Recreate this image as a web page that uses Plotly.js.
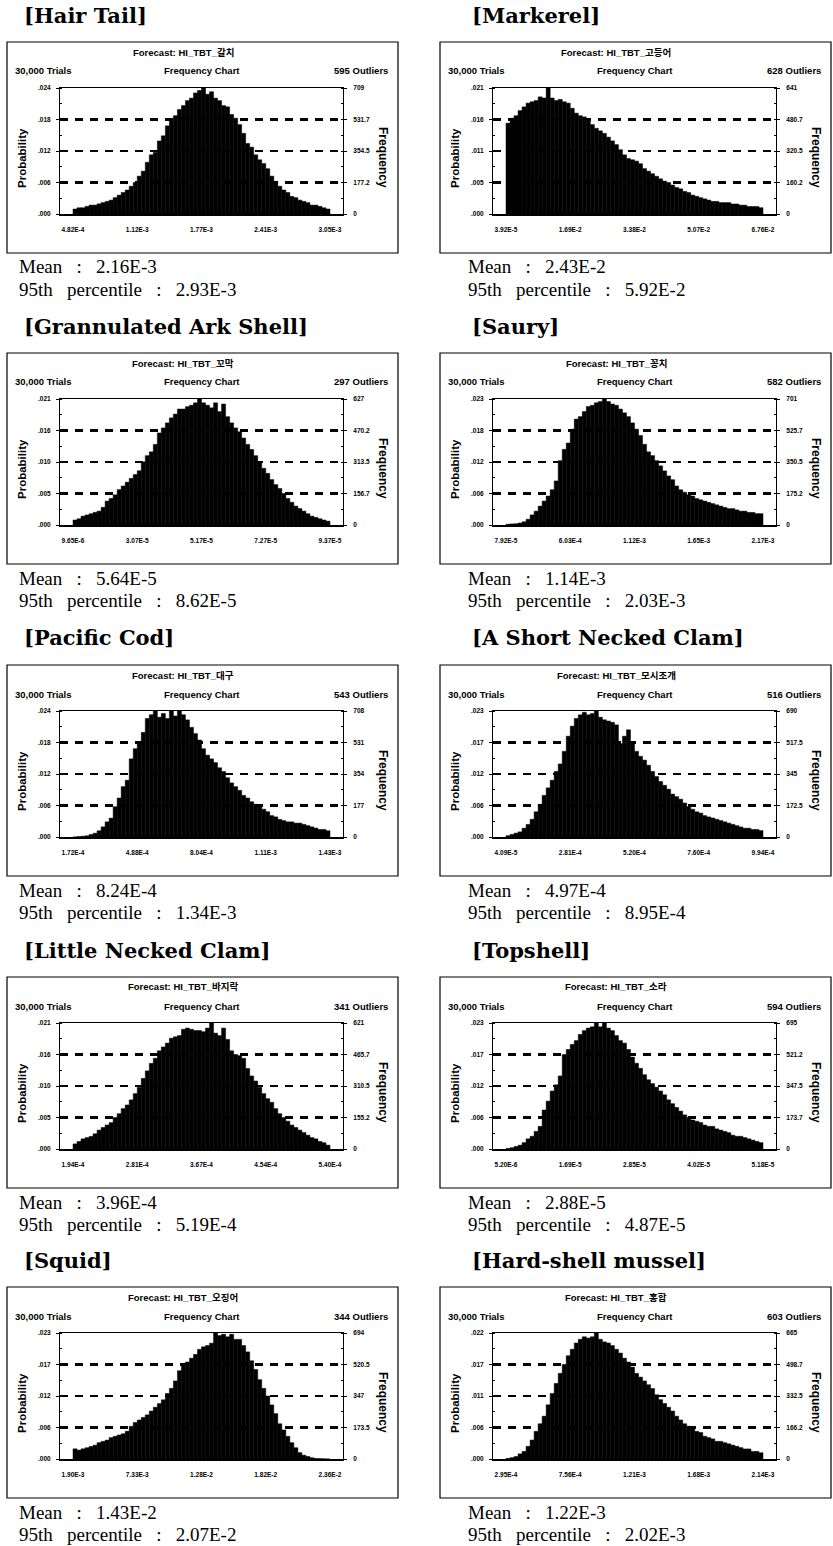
<!DOCTYPE html>
<html>
<head>
<meta charset="utf-8">
<script src="https://cdn.plot.ly/plotly-3.0.1.min.js"></script>
<style>
html,body{margin:0;padding:0;background:#fff;}
#chart{width:833px;height:1546px;}
</style>
</head>
<body>
<div id="chart"></div>
<script>
// ---------------- DATA ----------------
const speciesNames = ["[Hair Tail]", "[Markerel]", "[Grannulated Ark Shell]", "[Saury]", "[Pacific Cod]",
  "[A Short Necked Clam]", "[Little Necked Clam]", "[Topshell]", "[Squid]", "[Hard-shell mussel]"];
const forecastNames = ["HI_TBT_갈치", "HI_TBT_고등어", "HI_TBT_꼬막", "HI_TBT_꽁치", "HI_TBT_대구",
  "HI_TBT_모시조개", "HI_TBT_바지락", "HI_TBT_소라", "HI_TBT_오징어", "HI_TBT_홍합"];
const trials = ["30,000", "30,000", "30,000", "30,000", "30,000", "30,000", "30,000", "30,000", "30,000", "30,000"];
const outliers = [595, 628, 297, 582, 543, 516, 341, 594, 344, 603];
const meanLabels = ["2.16E-3", "2.43E-2", "5.64E-5", "1.14E-3", "8.24E-4", "4.97E-4", "3.96E-4", "2.88E-5", "1.43E-2", "1.22E-3"];
const p95Labels = ["2.93E-3", "5.92E-2", "8.62E-5", "2.03E-3", "1.34E-3", "8.95E-4", "5.19E-4", "4.87E-5", "2.07E-2", "2.02E-3"];
const freqMax = [709, 641, 627, 701, 708, 690, 621, 695, 694, 665];

const xTickLabels = [
  ["4.82E-4", "1.12E-3", "1.77E-3", "2.41E-3", "3.05E-3"],
  ["3.92E-5", "1.69E-2", "3.38E-2", "5.07E-2", "6.76E-2"],
  ["9.65E-6", "3.07E-5", "5.17E-5", "7.27E-5", "9.37E-5"],
  ["7.92E-5", "6.03E-4", "1.12E-3", "1.65E-3", "2.17E-3"],
  ["1.72E-4", "4.88E-4", "8.04E-4", "1.11E-3", "1.43E-3"],
  ["4.09E-5", "2.81E-4", "5.20E-4", "7.60E-4", "9.94E-4"],
  ["1.94E-4", "2.81E-4", "3.67E-4", "4.54E-4", "5.40E-4"],
  ["5.20E-6", "1.69E-5", "2.85E-5", "4.02E-5", "5.18E-5"],
  ["1.90E-3", "7.33E-3", "1.28E-2", "1.82E-2", "2.36E-2"],
  ["2.95E-4", "7.56E-4", "1.21E-3", "1.68E-3", "2.14E-3"]
];
const probTickLabels = [
  [".000", ".006", ".012", ".018", ".024"],
  [".000", ".005", ".011", ".016", ".021"],
  [".000", ".005", ".010", ".016", ".021"],
  [".000", ".006", ".012", ".018", ".023"],
  [".000", ".006", ".012", ".018", ".024"],
  [".000", ".006", ".012", ".017", ".023"],
  [".000", ".005", ".010", ".016", ".021"],
  [".000", ".006", ".012", ".017", ".023"],
  [".000", ".006", ".012", ".017", ".023"],
  [".000", ".006", ".011", ".017", ".022"]
];
const freqTickLabels = [
  ["0", "177.2", "354.5", "531.7", "709"],
  ["0", "160.2", "320.5", "480.7", "641"],
  ["0", "156.7", "313.5", "470.2", "627"],
  ["0", "175.2", "350.5", "525.7", "701"],
  ["0", "177", "354", "531", "708"],
  ["0", "172.5", "345", "517.5", "690"],
  ["0", "155.2", "310.5", "465.7", "621"],
  ["0", "173.7", "347.5", "521.2", "695"],
  ["0", "173.5", "347", "520.5", "694"],
  ["0", "166.2", "332.5", "498.7", "665"]
];

const hairTailCounts = [28, 35, 35, 43, 50, 50, 57, 64, 71, 78, 92, 106, 121, 135, 156, 177, 213, 241, 291, 333, 347, 411, 440, 496, 532, 553, 588, 610, 638, 652, 681, 695, 709, 674, 688, 652, 638, 610, 603, 560, 539, 503, 454, 397, 376, 333, 305, 284, 255, 213, 184, 156, 135, 121, 99, 92, 78, 71, 64, 50, 50, 43, 35, 28];
const markerelCounts = [462, 487, 500, 526, 545, 564, 571, 577, 596, 590, 641, 590, 577, 583, 571, 564, 538, 513, 500, 494, 474, 455, 436, 423, 410, 391, 372, 353, 327, 301, 282, 276, 269, 256, 231, 218, 205, 192, 179, 167, 160, 147, 135, 128, 115, 109, 96, 90, 83, 77, 71, 64, 64, 58, 58, 58, 51, 51, 45, 45, 38, 38, 38, 32];
const arkShellCounts = [25, 31, 44, 50, 56, 63, 69, 88, 119, 132, 150, 176, 194, 213, 232, 251, 270, 314, 345, 364, 401, 458, 483, 508, 533, 552, 577, 577, 589, 596, 608, 627, 608, 596, 583, 608, 564, 602, 539, 508, 483, 464, 433, 401, 376, 345, 314, 282, 257, 226, 201, 182, 157, 132, 113, 94, 82, 69, 56, 44, 38, 31, 25, 19];
const sauryCounts = [4, 6, 7, 11, 18, 32, 56, 77, 105, 133, 161, 196, 245, 358, 421, 456, 533, 589, 603, 631, 659, 666, 680, 687, 701, 687, 673, 666, 645, 624, 603, 568, 533, 498, 449, 407, 386, 358, 329, 301, 273, 252, 217, 196, 182, 168, 161, 147, 140, 133, 126, 119, 112, 105, 98, 91, 91, 84, 77, 77, 70, 70, 63, 63];
const pacificCodCounts = [0, 2, 4, 7, 14, 21, 35, 57, 85, 106, 170, 219, 283, 319, 439, 496, 524, 588, 666, 687, 708, 673, 694, 666, 708, 680, 708, 687, 658, 616, 581, 545, 496, 460, 439, 418, 389, 368, 333, 304, 283, 262, 234, 219, 198, 184, 170, 156, 142, 120, 113, 99, 92, 85, 85, 78, 78, 71, 64, 57, 50, 42, 42, 35];
const shortNeckedClamCounts = [7, 14, 21, 28, 48, 69, 97, 138, 179, 228, 269, 311, 359, 400, 469, 552, 607, 649, 669, 683, 669, 676, 690, 656, 642, 635, 628, 614, 511, 552, 587, 518, 469, 442, 421, 393, 359, 331, 304, 283, 262, 235, 221, 207, 186, 166, 152, 138, 131, 117, 110, 104, 97, 90, 83, 76, 69, 62, 55, 48, 48, 41, 41, 35];
const littleNeckedClamCounts = [25, 37, 50, 56, 62, 75, 93, 106, 118, 130, 155, 174, 199, 217, 242, 273, 304, 348, 385, 422, 447, 484, 503, 522, 546, 553, 559, 590, 596, 590, 584, 584, 578, 596, 621, 571, 559, 596, 540, 484, 466, 460, 447, 397, 360, 335, 304, 273, 248, 230, 199, 174, 155, 137, 118, 106, 93, 81, 68, 56, 50, 37, 31, 19];
const topshellCounts = [3, 7, 14, 21, 35, 56, 70, 97, 125, 215, 264, 320, 354, 403, 521, 549, 577, 598, 632, 653, 667, 674, 695, 674, 695, 667, 653, 626, 598, 584, 549, 507, 473, 445, 410, 382, 361, 341, 320, 299, 271, 250, 229, 209, 188, 174, 160, 153, 146, 132, 125, 125, 111, 104, 97, 90, 76, 70, 70, 63, 56, 49, 42, 35];
const squidCounts = [56, 49, 56, 62, 69, 76, 90, 97, 104, 118, 125, 132, 139, 153, 180, 201, 215, 229, 243, 264, 285, 305, 326, 361, 389, 430, 486, 514, 534, 555, 576, 604, 618, 625, 638, 694, 680, 687, 673, 687, 659, 659, 625, 590, 541, 493, 437, 389, 347, 298, 250, 194, 160, 125, 90, 62, 35, 21, 14, 7, 3, 2, 1, 0];
const hardShellMusselCounts = [3, 7, 13, 27, 40, 67, 100, 146, 186, 226, 286, 346, 399, 452, 499, 545, 579, 612, 632, 645, 638, 645, 665, 632, 618, 612, 599, 579, 559, 532, 512, 485, 452, 432, 412, 392, 372, 339, 313, 293, 273, 253, 226, 206, 186, 173, 160, 146, 140, 120, 113, 106, 93, 93, 86, 80, 73, 67, 60, 53, 53, 40, 40, 33];

const allCounts = [hairTailCounts, markerelCounts, arkShellCounts, sauryCounts, pacificCodCounts,
  shortNeckedClamCounts, littleNeckedClamCounts, topshellCounts, squidCounts, hardShellMusselCounts];

// ---------------- LAYOUT ----------------
const W = 833, H = 1546;
const colX = [7, 440];
const rowY = [42, 353, 665, 977, 1287];
const px = x => x / W;
const py = y => 1 - y / H;

const sansBold = {family: "Liberation Sans, Arial, Noto Sans CJK KR, sans-serif", color: "black", weight: "bold"};
const traces = [];
const layout = {
  width: W, height: H,
  margin: {l: 0, r: 0, t: 0, b: 0},
  paper_bgcolor: "white", plot_bgcolor: "white",
  showlegend: false, bargap: 0,
  annotations: [], shapes: []
};
const sp = "\u00a0\u00a0 ";

for (let k = 0; k < 10; k++) {
  const r = Math.floor(k / 2), c = k % 2;
  const bx = colX[c], by = rowY[r];
  const counts = allCounts[k];
  const N = counts.length;
  const M = freqMax[k];
  const xn = k + 1, yl = 2 * k + 1, yr = 2 * k + 2;
  const xName = xn === 1 ? "x" : "x" + xn;
  const ylName = yl === 1 ? "y" : "y" + yl;
  const yrName = "y" + yr;
  const tv = [0, M / 4, M / 2, 3 * M / 4, M];
  const tickFont = Object.assign({}, sansBold, {size: 6.5});

  layout["xaxis" + (xn === 1 ? "" : xn)] = {
    domain: [px(bx + 53), px(bx + 336)], anchor: ylName,
    range: [-0.0506 * N, 1.0506 * N],
    tickmode: "array", tickvals: [0, N / 4, N / 2, 3 * N / 4, N], ticktext: xTickLabels[k],
    ticks: "", showline: true, linecolor: "black", linewidth: 1.5, mirror: true,
    showgrid: false, zeroline: false, tickfont: tickFont, ticklabelstandoff: 9, fixedrange: true
  };
  layout["yaxis" + (yl === 1 ? "" : yl)] = {
    domain: [py(by + 172), py(by + 46)], anchor: xName,
    range: [0, M], tickmode: "array", tickvals: tv, ticktext: probTickLabels[k],
    ticks: "outside", ticklen: 3, tickcolor: "black",
    showline: true, linecolor: "black", linewidth: 1, mirror: true,
    showgrid: true, gridcolor: "black", gridwidth: 2.2, griddash: "8px,7px",
    zeroline: false, tickfont: tickFont, ticklabelstandoff: 4, fixedrange: true,
    minor: {ticks: "inside", ticklen: 2, tick0: 0, dtick: M / 8, tickcolor: "black", showgrid: false}
  };
  layout["yaxis" + yr] = {
    overlaying: ylName, side: "right", anchor: xName,
    range: [0, M], tickmode: "array", tickvals: tv, ticktext: freqTickLabels[k],
    ticks: "outside", ticklen: 3, tickcolor: "black",
    showline: true, linecolor: "black", linewidth: 1,
    showgrid: false, zeroline: false, tickfont: tickFont, ticklabelstandoff: 5, fixedrange: true,
    minor: {ticks: "inside", ticklen: 2, tick0: 0, dtick: M / 8, tickcolor: "black", showgrid: false}
  };

  traces.push({
    type: "bar", x0: 0.5, dx: 1, y: counts, width: 1,
    xaxis: xName, yaxis: ylName,
    marker: {color: "black", line: {color: "black", width: 0.5}},
    hoverinfo: "skip"
  });
  traces.push({
    type: "scatter", mode: "markers", x: [0, N], y: [-0.045 * M, -0.045 * M],
    xaxis: xName, yaxis: yrName, cliponaxis: false,
    marker: {symbol: ["triangle-right", "triangle-left"], size: 8, color: "black"},
    hoverinfo: "skip"
  });

  // outer frame
  layout.shapes.push({
    type: "rect", xref: "paper", yref: "paper",
    x0: px(bx), x1: px(bx + 391), y0: py(by + 211), y1: py(by),
    line: {color: "black", width: 1.2}
  });

  const A = layout.annotations;
  A.push({xref: "paper", yref: "paper", x: px(bx + (c === 0 ? 15 : 30)), y: py(by - 27),
    xanchor: "left", yanchor: "middle", showarrow: false, text: speciesNames[k],
    font: {family: "DejaVu Serif, serif", size: 21, color: "black", weight: "bold"}});
  A.push({xref: "paper", yref: "paper", x: px(bx + 176), y: py(by + 10),
    xanchor: "center", yanchor: "middle", showarrow: false, text: "Forecast: " + forecastNames[k],
    font: Object.assign({}, sansBold, {size: 9.5})});
  A.push({xref: "paper", yref: "paper", x: px(bx + 6), y: py(by + 29),
    xanchor: "left", yanchor: "middle", showarrow: false, text: trials[k] + " Trials",
    font: Object.assign({}, sansBold, {size: 9.5})});
  A.push({xref: "paper", yref: "paper", x: px(bx + 195), y: py(by + 29),
    xanchor: "center", yanchor: "middle", showarrow: false, text: "Frequency Chart",
    font: Object.assign({}, sansBold, {size: 9.5})});
  A.push({xref: "paper", yref: "paper", x: px(bx + 383), y: py(by + 29),
    xanchor: "right", yanchor: "middle", showarrow: false, text: outliers[k] + " Outliers",
    font: Object.assign({}, sansBold, {size: 9.5})});
  A.push({xref: "paper", yref: "paper", x: px(bx + 15), y: py(by + 116),
    xanchor: "center", yanchor: "middle", showarrow: false, text: "Probability", textangle: -90,
    font: Object.assign({}, sansBold, {size: 11.5})});
  A.push({xref: "paper", yref: "paper", x: px(bx + 376), y: py(by + 115),
    xanchor: "center", yanchor: "middle", showarrow: false, text: "Frequency", textangle: 90,
    font: Object.assign({}, sansBold, {size: 12})});
  const serif = {family: "Liberation Serif, Times New Roman, serif", size: 19, color: "black"};
  A.push({xref: "paper", yref: "paper", x: px(bx + (c === 0 ? 11 : 27)), y: py(by + 225),
    xanchor: "left", yanchor: "middle", showarrow: false, borderpad: 0,
    text: "Mean" + sp + ":" + sp + meanLabels[k], font: serif});
  A.push({xref: "paper", yref: "paper", x: px(bx + (c === 0 ? 11 : 27)), y: py(by + 247),
    xanchor: "left", yanchor: "middle", showarrow: false, borderpad: 0,
    text: "95th" + sp + "percentile" + sp + ":" + sp + p95Labels[k], font: serif});
}

Plotly.newPlot("chart", traces, layout, {displayModeBar: false, staticPlot: true});
</script>
</body>
</html>
